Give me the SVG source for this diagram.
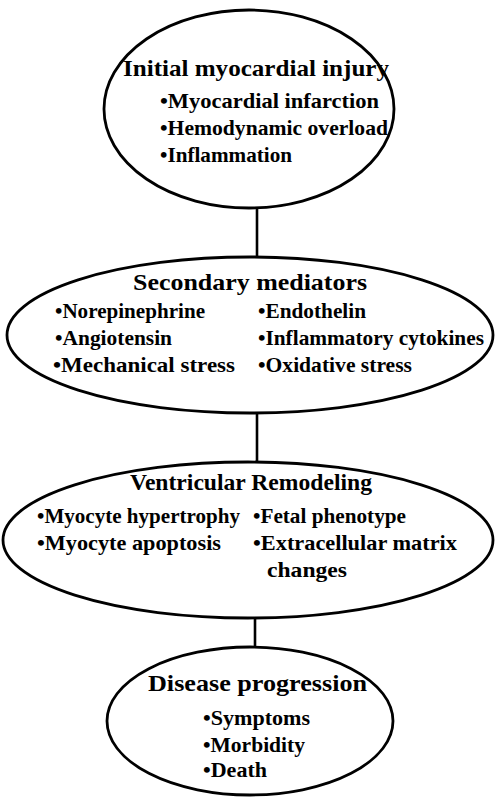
<svg xmlns="http://www.w3.org/2000/svg" width="495" height="800" viewBox="0 0 495 800">
<style>
.shape{fill:none;stroke:#000;stroke-width:2.8}
.conn{stroke:#000;stroke-width:2.6;fill:none}
.t{font-family:"Liberation Serif","Times New Roman",serif;font-weight:bold;font-size:24px;fill:#000}
.i{font-family:"Liberation Serif","Times New Roman",serif;font-weight:bold;font-size:21px;fill:#000}
</style>
<rect width="495" height="800" fill="#fff"/>
<g id="connectors">
<line class="conn" x1="257" y1="208" x2="257" y2="258"/>
<line class="conn" x1="257" y1="413" x2="257" y2="463"/>
<line class="conn" x1="255" y1="617" x2="255" y2="648"/>
</g>
<g id="node-injury">
<ellipse class="shape" cx="249" cy="109" rx="145" ry="99"/>
<text class="t" x="123" y="76" textLength="266" lengthAdjust="spacingAndGlyphs">Initial myocardial injury</text>
<text class="i" x="160" y="108" textLength="219" lengthAdjust="spacingAndGlyphs">•Myocardial infarction</text>
<text class="i" x="160" y="135" textLength="228" lengthAdjust="spacingAndGlyphs">•Hemodynamic overload</text>
<text class="i" x="160" y="162" textLength="132" lengthAdjust="spacingAndGlyphs">•Inflammation</text>
</g>
<g id="node-mediators">
<ellipse class="shape" cx="250" cy="335" rx="243" ry="78"/>
<text class="t" x="133" y="290" textLength="234" lengthAdjust="spacingAndGlyphs">Secondary mediators</text>
<text class="i" x="55" y="318" textLength="150" lengthAdjust="spacingAndGlyphs">•Norepinephrine</text>
<text class="i" x="258" y="318" textLength="108" lengthAdjust="spacingAndGlyphs">•Endothelin</text>
<text class="i" x="55" y="345" textLength="117" lengthAdjust="spacingAndGlyphs">•Angiotensin</text>
<text class="i" x="258" y="345" textLength="226" lengthAdjust="spacingAndGlyphs">•Inflammatory cytokines</text>
<text class="i" x="53" y="372" textLength="182" lengthAdjust="spacingAndGlyphs">•Mechanical stress</text>
<text class="i" x="258" y="372" textLength="154" lengthAdjust="spacingAndGlyphs">•Oxidative stress</text>
</g>
<g id="node-remodeling">
<ellipse class="shape" cx="248" cy="540" rx="245" ry="78"/>
<text class="t" x="130" y="490" textLength="242" lengthAdjust="spacingAndGlyphs">Ventricular Remodeling</text>
<text class="i" x="37" y="523" textLength="203" lengthAdjust="spacingAndGlyphs">•Myocyte hypertrophy</text>
<text class="i" x="37" y="550" textLength="184" lengthAdjust="spacingAndGlyphs">•Myocyte apoptosis</text>
<text class="i" x="253" y="523" textLength="153" lengthAdjust="spacingAndGlyphs">•Fetal phenotype</text>
<text class="i" x="253" y="550" textLength="204" lengthAdjust="spacingAndGlyphs">•Extracellular matrix</text>
<text class="i" x="267" y="577" textLength="80" lengthAdjust="spacingAndGlyphs">changes</text>
</g>
<g id="node-progression">
<ellipse class="shape" cx="250" cy="721" rx="143" ry="74"/>
<text class="t" x="148" y="691" textLength="219" lengthAdjust="spacingAndGlyphs">Disease progression</text>
<text class="i" x="203" y="725" textLength="107" lengthAdjust="spacingAndGlyphs">•Symptoms</text>
<text class="i" x="203" y="752" textLength="102" lengthAdjust="spacingAndGlyphs">•Morbidity</text>
<text class="i" x="203" y="777" textLength="64" lengthAdjust="spacingAndGlyphs">•Death</text>
</g>
</svg>
